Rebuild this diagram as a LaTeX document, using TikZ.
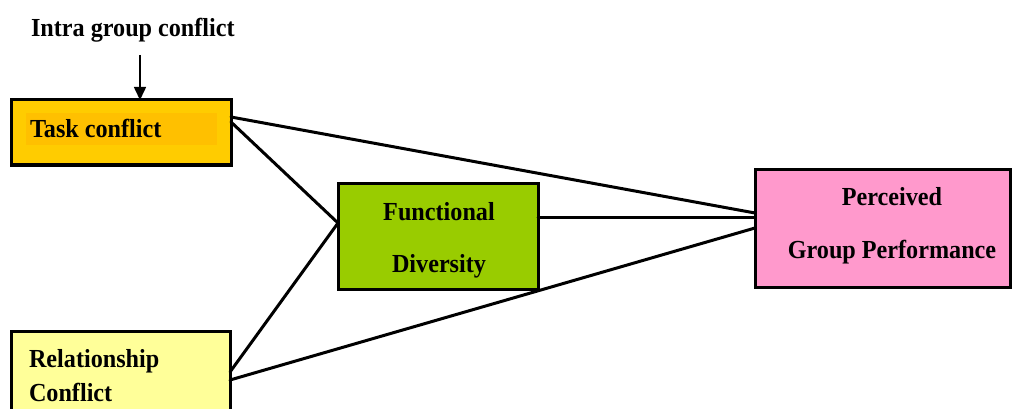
\documentclass[tikz,border=0pt]{standalone}
\usepackage{fontspec}
\setmainfont{Liberation Serif}[FakeStretch=0.93]
\usetikzlibrary{calc,arrows.meta}
\definecolor{taskfill}{HTML}{FFCC00}
\definecolor{taskmark}{HTML}{FFC000}
\definecolor{relfill}{HTML}{FFFF99}
\definecolor{fdfill}{HTML}{99CC00}
\definecolor{perffill}{HTML}{FF99CC}
\tikzset{
  box/.style={draw=black, line width=3pt, rectangle, inner sep=0pt, outer sep=0pt},
  label/.style={font=\fontsize{26}{30}\selectfont\bfseries, inner sep=0pt, outer sep=0pt},
  link/.style={line width=3pt, line cap=round}
}
\begin{document}
\begin{tikzpicture}[x=1pt,y=-1pt]
\useasboundingbox (0,0) rectangle (1012,409);
% boxes
\node[box, fill=taskfill, minimum width=219.5pt, minimum height=65pt] (task) at (121.25,132.5) {};
\fill[taskmark] (26,113) rectangle (217,145);
\node[box, fill=relfill, minimum width=218.5pt, minimum height=90pt] (rel) at (120.75,376) {};
\node[box, fill=fdfill, minimum width=200pt, minimum height=106pt] (fd) at (438,236) {};
\node[box, fill=perffill, minimum width=255pt, minimum height=118pt] (perf) at (882.5,228) {};
% texts
\node[label, anchor=base west] (intra) at (31,37) {Intra group conflict};
\node[label, anchor=base west] (tasktxt) at (30,138) {Task conflict};
\node[label, anchor=base west] (reltxtA) at (29,367) {Relationship};
\node[label, anchor=base west] (reltxtB) at (29,401) {Conflict};
\node[label, anchor=base] (fdtxtA) at (439,220) {Functional};
\node[label, anchor=base] (fdtxtB) at (439,272) {Diversity};
\node[label, anchor=base] (perftxtA) at (892,205) {Perceived};
\node[label, anchor=base] (perftxtB) at (892,258) {Group Performance};
% connector end points on the box borders
\coordinate (arrowtop) at (140,55);
\coordinate (t1) at ($(task.north east)+(0,17)$);
\coordinate (t2) at ($(task.north east)+(0,22)$);
\coordinate (r1) at ($(rel.north east)+(0,41)$);
\coordinate (r2) at ($(rel.north east)+(0,49)$);
\coordinate (fdin) at ($(fd.north west)+(0,40)$);
\coordinate (fdout) at ($(fd.north east)+(0,34)$);
\coordinate (p1) at ($(perf.north west)+(0,44)$);
\coordinate (p2) at ($(perf.north west)+(0,48)$);
\coordinate (p3) at ($(perf.north west)+(0,59)$);
% connectors
\draw[line width=1.6pt, -{Triangle[length=13pt,width=12pt]}] (arrowtop) -- (task.north -| arrowtop);
\draw[link] (t1) -- (p1);
\draw[link] (t2) -- (fdin);
\draw[link] (r1) -- (fdin);
\draw[link] (r2) -- (p3);
\draw[link] (fdout) -- (p2);
\end{tikzpicture}
\end{document}
